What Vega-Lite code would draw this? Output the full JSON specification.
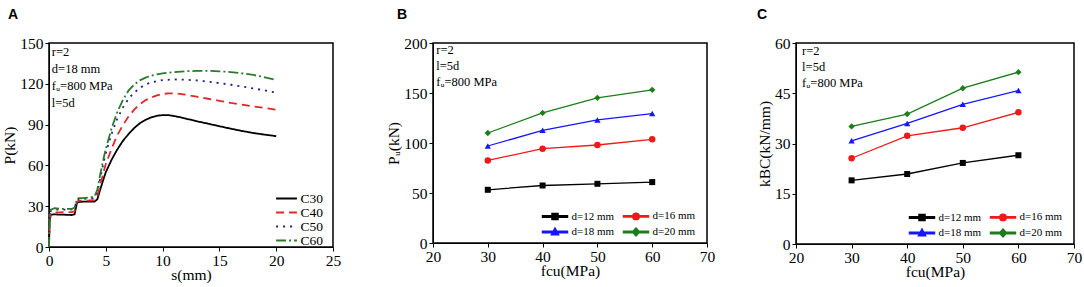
{
  "$schema": "https://vega.github.io/schema/vega-lite/v6.json",
  "background": "white",
  "padding": {"left": 2, "top": 7, "right": 0, "bottom": 0},
  "config": {
    "font": "Liberation Serif",
    "view": {"stroke": "black", "strokeWidth": 1.5},
    "axis": {
      "labelFont": "Liberation Serif", "titleFont": "Liberation Serif",
      "labelFontSize": 15.5, "titleFontSize": 15.5, "titleFontWeight": "normal",
      "labelColor": "black", "titleColor": "black", "domainColor": "black", "tickColor": "black",
      "grid": false, "tickSize": 4, "labelOverlap": false, "labelFlush": false, "format": "d"
    },
    "axisX": {"labelPadding": 2, "titlePadding": -1},
    "axisY": {"labelPadding": 2, "titlePadding": 2},
    "legend": {"labelFont": "Liberation Serif", "labelColor": "black", "titleFont": "Liberation Serif"},
    "title": {"font": "Liberation Sans", "fontSize": 14, "fontWeight": "bold", "anchor": "start", "frame": "group", "offset": 14, "color": "black"}
  },
  "bounds": "flush",
  "spacing": 100,
  "resolve": {"scale": {"color": "independent", "strokeDash": "independent", "shape": "independent"}, "legend": {"color": "independent", "strokeDash": "independent", "shape": "independent"}},
  "hconcat": [
    {
      "width": 284,
      "height": 204,
      "title": {"text": "A", "dx": -41},
      "data": {"values": [
        {"s":0,"p":0,"c":"C30"},{"s":0.05,"p":18,"c":"C30"},{"s":0.15,"p":23.8,"c":"C30"},{"s":0.5,"p":24,"c":"C30"},{"s":1,"p":23.8,"c":"C30"},{"s":1.5,"p":23.7,"c":"C30"},{"s":2,"p":23.5,"c":"C30"},{"s":2.25,"p":24,"c":"C30"},{"s":2.45,"p":32,"c":"C30"},{"s":2.6,"p":33.2,"c":"C30"},{"s":3,"p":33.3,"c":"C30"},{"s":3.5,"p":33.3,"c":"C30"},{"s":4,"p":33.4,"c":"C30"},{"s":4.25,"p":35,"c":"C30"},{"s":4.5,"p":42,"c":"C30"},{"s":4.8,"p":50,"c":"C30"},{"s":5,"p":55,"c":"C30"},{"s":5.5,"p":64,"c":"C30"},{"s":6,"p":71.5,"c":"C30"},{"s":6.5,"p":78,"c":"C30"},{"s":7,"p":83,"c":"C30"},{"s":7.5,"p":87.5,"c":"C30"},{"s":8,"p":91,"c":"C30"},{"s":8.5,"p":93.5,"c":"C30"},{"s":9,"p":95.3,"c":"C30"},{"s":9.5,"p":96.5,"c":"C30"},{"s":10,"p":97,"c":"C30"},{"s":10.5,"p":97,"c":"C30"},{"s":11,"p":96.3,"c":"C30"},{"s":11.5,"p":95.5,"c":"C30"},{"s":12,"p":94.5,"c":"C30"},{"s":13,"p":92.5,"c":"C30"},{"s":14,"p":90.7,"c":"C30"},{"s":15,"p":88.8,"c":"C30"},{"s":16,"p":87,"c":"C30"},{"s":17,"p":85.3,"c":"C30"},{"s":18,"p":83.8,"c":"C30"},{"s":19,"p":82.6,"c":"C30"},{"s":20,"p":81.5,"c":"C30"},
        {"s":0,"p":0,"c":"C40"},{"s":0.05,"p":20,"c":"C40"},{"s":0.15,"p":25,"c":"C40"},{"s":0.5,"p":25.5,"c":"C40"},{"s":1,"p":25.5,"c":"C40"},{"s":1.5,"p":25.6,"c":"C40"},{"s":2,"p":25.6,"c":"C40"},{"s":2.25,"p":26.2,"c":"C40"},{"s":2.45,"p":33,"c":"C40"},{"s":2.6,"p":34,"c":"C40"},{"s":3,"p":34.1,"c":"C40"},{"s":3.5,"p":34.2,"c":"C40"},{"s":4,"p":34.4,"c":"C40"},{"s":4.25,"p":37,"c":"C40"},{"s":4.5,"p":45,"c":"C40"},{"s":4.8,"p":55,"c":"C40"},{"s":5,"p":61,"c":"C40"},{"s":5.5,"p":72,"c":"C40"},{"s":6,"p":82,"c":"C40"},{"s":6.5,"p":89.5,"c":"C40"},{"s":7,"p":96,"c":"C40"},{"s":7.5,"p":101,"c":"C40"},{"s":8,"p":105,"c":"C40"},{"s":8.5,"p":108,"c":"C40"},{"s":9,"p":110,"c":"C40"},{"s":9.5,"p":111.5,"c":"C40"},{"s":10,"p":112.5,"c":"C40"},{"s":10.5,"p":113,"c":"C40"},{"s":11,"p":113,"c":"C40"},{"s":11.5,"p":112.6,"c":"C40"},{"s":12,"p":112,"c":"C40"},{"s":13,"p":110.5,"c":"C40"},{"s":14,"p":109,"c":"C40"},{"s":15,"p":107.5,"c":"C40"},{"s":16,"p":106,"c":"C40"},{"s":17,"p":104.7,"c":"C40"},{"s":18,"p":103.4,"c":"C40"},{"s":19,"p":102.2,"c":"C40"},{"s":20,"p":101,"c":"C40"},
        {"s":0,"p":0,"c":"C50"},{"s":0.05,"p":22,"c":"C50"},{"s":0.15,"p":26.5,"c":"C50"},{"s":0.5,"p":27.5,"c":"C50"},{"s":1,"p":27.5,"c":"C50"},{"s":1.5,"p":27.5,"c":"C50"},{"s":2,"p":27.6,"c":"C50"},{"s":2.25,"p":28.3,"c":"C50"},{"s":2.45,"p":34.5,"c":"C50"},{"s":2.6,"p":35.3,"c":"C50"},{"s":3,"p":35.4,"c":"C50"},{"s":3.5,"p":35.7,"c":"C50"},{"s":4,"p":36,"c":"C50"},{"s":4.25,"p":40,"c":"C50"},{"s":4.5,"p":50,"c":"C50"},{"s":4.8,"p":62,"c":"C50"},{"s":5,"p":69,"c":"C50"},{"s":5.5,"p":83,"c":"C50"},{"s":6,"p":94,"c":"C50"},{"s":6.5,"p":102.5,"c":"C50"},{"s":7,"p":109,"c":"C50"},{"s":7.5,"p":113.5,"c":"C50"},{"s":8,"p":117,"c":"C50"},{"s":8.5,"p":119.5,"c":"C50"},{"s":9,"p":121,"c":"C50"},{"s":9.5,"p":122,"c":"C50"},{"s":10,"p":122.7,"c":"C50"},{"s":11,"p":123.2,"c":"C50"},{"s":12,"p":123,"c":"C50"},{"s":13,"p":122.5,"c":"C50"},{"s":14,"p":121.6,"c":"C50"},{"s":15,"p":120.5,"c":"C50"},{"s":16,"p":119.3,"c":"C50"},{"s":17,"p":118,"c":"C50"},{"s":18,"p":116.6,"c":"C50"},{"s":19,"p":115.1,"c":"C50"},{"s":20,"p":113.5,"c":"C50"},
        {"s":0,"p":0,"c":"C60"},{"s":0.05,"p":23,"c":"C60"},{"s":0.15,"p":27.5,"c":"C60"},{"s":0.5,"p":28.5,"c":"C60"},{"s":1,"p":28,"c":"C60"},{"s":1.5,"p":28,"c":"C60"},{"s":2,"p":28,"c":"C60"},{"s":2.25,"p":28.8,"c":"C60"},{"s":2.45,"p":35,"c":"C60"},{"s":2.6,"p":36,"c":"C60"},{"s":3,"p":36,"c":"C60"},{"s":3.5,"p":36.3,"c":"C60"},{"s":4,"p":37,"c":"C60"},{"s":4.25,"p":42,"c":"C60"},{"s":4.5,"p":53,"c":"C60"},{"s":4.8,"p":65,"c":"C60"},{"s":5,"p":72,"c":"C60"},{"s":5.5,"p":87,"c":"C60"},{"s":6,"p":99,"c":"C60"},{"s":6.5,"p":108,"c":"C60"},{"s":7,"p":115,"c":"C60"},{"s":7.5,"p":119.5,"c":"C60"},{"s":8,"p":122.5,"c":"C60"},{"s":8.5,"p":124.5,"c":"C60"},{"s":9,"p":126,"c":"C60"},{"s":9.5,"p":127,"c":"C60"},{"s":10,"p":127.7,"c":"C60"},{"s":11,"p":128.6,"c":"C60"},{"s":12,"p":129.2,"c":"C60"},{"s":13,"p":129.5,"c":"C60"},{"s":14,"p":129.5,"c":"C60"},{"s":15,"p":129.2,"c":"C60"},{"s":16,"p":128.6,"c":"C60"},{"s":17,"p":127.7,"c":"C60"},{"s":18,"p":126.5,"c":"C60"},{"s":19,"p":124.8,"c":"C60"},{"s":20,"p":122.7,"c":"C60"}
      ]},
      "layer": [
        {
          "mark": {"type": "line", "strokeWidth": 1.8},
          "encoding": {
            "x": {"field": "s", "type": "quantitative", "scale": {"domain": [0, 25], "nice": false},
              "axis": {"title": "s(mm)", "values": [0,2.5,5,7.5,10,12.5,15,17.5,20,22.5,25],
                "labelExpr": "datum.value % 5 === 0 ? datum.label : ''",
                "encode": {"ticks": {"update": {"y2": {"signal": "datum.value % 5 === 0 ? 4 : 2.5"}}}}}},
            "y": {"field": "p", "type": "quantitative", "scale": {"domain": [0, 150], "nice": false},
              "axis": {"title": "P(kN)", "values": [0,15,30,45,60,75,90,105,120,135,150],
                "labelExpr": "datum.value % 30 === 0 ? datum.label : ''",
                "encode": {"ticks": {"update": {"x2": {"signal": "datum.value % 30 === 0 ? -4 : -2.5"}}}}}},
            "color": {"field": "c", "type": "nominal",
              "scale": {"domain": ["C30","C40","C50","C60"], "range": ["#000000","#e3262b","#1e1e8c","#2a7a2a"]},
              "legend": {"orient": "bottom-right", "title": "\u00a0", "titleOrient": "right", "titlePadding": 10, "titleFontSize": 13.5, "offset": 0, "padding": 0, "symbolType": "M-1.6,0H1.6", "symbolSize": 169, "symbolStrokeWidth": 2, "labelFontSize": 13.5, "rowPadding": 0, "labelOffset": 6.5}},
            "strokeDash": {"field": "c", "type": "nominal",
              "scale": {"domain": ["C30","C40","C50","C60"], "range": [[1,0],[8,5],[2,5],[10,3,2,3]]},
              "legend": {"orient": "bottom-right", "title": "\u00a0", "titleOrient": "right", "titlePadding": 10, "titleFontSize": 13.5, "offset": 0, "padding": 0, "symbolType": "M-1.6,0H1.6", "symbolSize": 169, "symbolStrokeWidth": 2, "labelFontSize": 13.5, "rowPadding": 0, "labelOffset": 6.5}}
          }
        },
        {
          "data": {"values": [{}]},
          "mark": {"type": "text", "align": "left", "baseline": "top", "fontSize": 12.5, "lineHeight": 17, "fill": "black", "font": "Liberation Serif"},
          "encoding": {
            "x": {"datum": 0.25},
            "y": {"datum": 148},
            "text": {"value": ["r=2", "d=18 mm", "fᵤ=800 MPa", "l=5d"]}
          }
        }
      ]
    },
    {
      "bounds": "flush",
      "spacing": 89,
      "resolve": {"scale": {"color": "independent", "shape": "independent"}, "legend": {"color": "independent", "shape": "independent"}},
      "hconcat": [
        {
          "width": 274,
          "height": 200,
          "title": {"text": "B", "dx": -36},
          "data": {"values": [
            {"f":30,"v":53.2,"d":"d=12 mm"},{"f":40,"v":57.5,"d":"d=12 mm"},{"f":50,"v":59.2,"d":"d=12 mm"},{"f":60,"v":60.9,"d":"d=12 mm"},
            {"f":30,"v":82.6,"d":"d=16 mm"},{"f":40,"v":94.3,"d":"d=16 mm"},{"f":50,"v":98.0,"d":"d=16 mm"},{"f":60,"v":103.7,"d":"d=16 mm"},
            {"f":30,"v":97.0,"d":"d=18 mm"},{"f":40,"v":112.7,"d":"d=18 mm"},{"f":50,"v":123.1,"d":"d=18 mm"},{"f":60,"v":129.4,"d":"d=18 mm"},
            {"f":30,"v":110.0,"d":"d=20 mm"},{"f":40,"v":130.1,"d":"d=20 mm"},{"f":50,"v":145.2,"d":"d=20 mm"},{"f":60,"v":153.2,"d":"d=20 mm"}
          ]},
          "layer": [
            {
              "mark": {"type": "line", "strokeWidth": 1.3},
              "encoding": {
                "x": {"field": "f", "type": "quantitative", "scale": {"domain": [20, 70], "nice": false},
                  "axis": {"title": "fcu(MPa)", "values": [20,25,30,35,40,45,50,55,60,65,70],
                    "labelExpr": "datum.value % 10 === 0 ? datum.label : ''",
                    "encode": {"ticks": {"update": {"y2": {"signal": "datum.value % 10 === 0 ? 4 : 2.5"}}}}}},
                "y": {"field": "v", "type": "quantitative", "scale": {"domain": [0, 200], "nice": false},
                  "axis": {"title": "Pᵤ(kN)", "values": [0,25,50,75,100,125,150,175,200],
                    "labelExpr": "datum.value % 50 === 0 ? datum.label : ''",
                    "encode": {"ticks": {"update": {"x2": {"signal": "datum.value % 50 === 0 ? -4 : -2.5"}}}}}},
                "color": {"field": "d", "type": "nominal",
                  "scale": {"domain": ["d=12 mm","d=18 mm","d=16 mm","d=20 mm"], "range": ["#000000","#1515ff","#f01818","#1b7d1b"]},
                  "legend": {"orient": "bottom-right", "title": "\u00a0", "titleOrient": "right", "titlePadding": 7.5, "titleFontSize": 11, "columns": 2, "offset": 4, "padding": 0, "symbolSize": 256, "labelFontSize": 11, "columnPadding": 5, "rowPadding": 0, "labelOffset": 7.5, "symbolOpacity": 1}}
              }
            },
            {
              "mark": {"type": "point", "filled": true, "size": 0},
              "encoding": {
                "x": {"field": "f", "type": "quantitative"},
                "y": {"field": "v", "type": "quantitative"},
                "color": {"field": "d", "type": "nominal",
                  "scale": {"domain": ["d=12 mm","d=18 mm","d=16 mm","d=20 mm"], "range": ["#000000","#1515ff","#f01818","#1b7d1b"]}, "legend": null},
                "shape": {"field": "d", "type": "nominal",
                  "scale": {"domain": ["d=12 mm","d=18 mm","d=16 mm","d=20 mm"], "range": [
                    "M-1.56,-0.08H1.56V0.08H-1.56ZM-0.375,-0.375H0.375V0.375H-0.375Z",
                    "M-1.56,-0.08H1.56V0.08H-1.56ZM0,-0.5L0.45,0.35L-0.45,0.35Z",
                    "M-1.56,-0.08H1.56V0.08H-1.56ZM-0.4,0A0.4,0.4,0,1,1,0.4,0A0.4,0.4,0,1,1,-0.4,0Z",
                    "M-1.56,-0.08H1.56V0.08H-1.56ZM0,-0.5L0.45,0L0,0.5L-0.45,0Z"]}, "legend": null}
              }
            },
            {"transform": [{"filter": "datum.d === 'd=12 mm'"}], "mark": {"type": "point", "filled": true, "opacity": 1, "shape": "square", "size": 36, "color": "#000000"}, "encoding": {"x": {"field": "f", "type": "quantitative"}, "y": {"field": "v", "type": "quantitative"}}},
            {"transform": [{"filter": "datum.d === 'd=16 mm'"}], "mark": {"type": "point", "filled": true, "opacity": 1, "shape": "circle", "size": 42, "color": "#f01818"}, "encoding": {"x": {"field": "f", "type": "quantitative"}, "y": {"field": "v", "type": "quantitative"}}},
            {"transform": [{"filter": "datum.d === 'd=18 mm'"}], "mark": {"type": "point", "filled": true, "opacity": 1, "shape": "triangle-up", "size": 40, "color": "#1515ff"}, "encoding": {"x": {"field": "f", "type": "quantitative"}, "y": {"field": "v", "type": "quantitative"}}},
            {"transform": [{"filter": "datum.d === 'd=20 mm'"}], "mark": {"type": "point", "filled": true, "opacity": 1, "shape": "diamond", "size": 40, "color": "#1b7d1b"}, "encoding": {"x": {"field": "f", "type": "quantitative"}, "y": {"field": "v", "type": "quantitative"}}},
            {
              "data": {"values": [{}]},
              "mark": {"type": "text", "align": "left", "baseline": "top", "fontSize": 12.5, "lineHeight": 16, "fill": "black", "font": "Liberation Serif"},
              "encoding": {
                "x": {"datum": 20.6},
                "y": {"datum": 199.5},
                "text": {"value": ["r=2", "l=5d", "fᵤ=800 MPa"]}
              }
            }
          ]
        },
        {
          "width": 278,
          "height": 201,
          "title": {"text": "C", "dx": -39},
          "data": {"values": [
            {"f":30,"v":19.0,"d":"d=12 mm"},{"f":40,"v":20.9,"d":"d=12 mm"},{"f":50,"v":24.2,"d":"d=12 mm"},{"f":60,"v":26.5,"d":"d=12 mm"},
            {"f":30,"v":25.6,"d":"d=16 mm"},{"f":40,"v":32.3,"d":"d=16 mm"},{"f":50,"v":34.7,"d":"d=16 mm"},{"f":60,"v":39.3,"d":"d=16 mm"},
            {"f":30,"v":30.8,"d":"d=18 mm"},{"f":40,"v":36.0,"d":"d=18 mm"},{"f":50,"v":41.7,"d":"d=18 mm"},{"f":60,"v":45.8,"d":"d=18 mm"},
            {"f":30,"v":35.1,"d":"d=20 mm"},{"f":40,"v":38.8,"d":"d=20 mm"},{"f":50,"v":46.5,"d":"d=20 mm"},{"f":60,"v":51.3,"d":"d=20 mm"}
          ]},
          "layer": [
            {
              "mark": {"type": "line", "strokeWidth": 1.3},
              "encoding": {
                "x": {"field": "f", "type": "quantitative", "scale": {"domain": [20, 70], "nice": false},
                  "axis": {"title": "fcu(MPa)", "values": [20,25,30,35,40,45,50,55,60,65,70],
                    "labelExpr": "datum.value % 10 === 0 ? datum.label : ''",
                    "encode": {"ticks": {"update": {"y2": {"signal": "datum.value % 10 === 0 ? 4 : 2.5"}}}}}},
                "y": {"field": "v", "type": "quantitative", "scale": {"domain": [0, 60], "nice": false},
                  "axis": {"title": "kBC(kN/mm)", "values": [0,7.5,15,22.5,30,37.5,45,52.5,60],
                    "labelExpr": "datum.value % 15 === 0 ? datum.label : ''",
                    "encode": {"ticks": {"update": {"x2": {"signal": "datum.value % 15 === 0 ? -4 : -2.5"}}}}}},
                "color": {"field": "d", "type": "nominal",
                  "scale": {"domain": ["d=12 mm","d=18 mm","d=16 mm","d=20 mm"], "range": ["#000000","#1515ff","#f01818","#1b7d1b"]},
                  "legend": {"orient": "bottom-right", "title": "\u00a0", "titleOrient": "right", "titlePadding": 7.5, "titleFontSize": 11, "columns": 2, "offset": 4, "padding": 0, "symbolSize": 256, "labelFontSize": 11, "columnPadding": 5, "rowPadding": 0, "labelOffset": 7.5, "symbolOpacity": 1}}
              }
            },
            {
              "mark": {"type": "point", "filled": true, "size": 0},
              "encoding": {
                "x": {"field": "f", "type": "quantitative"},
                "y": {"field": "v", "type": "quantitative"},
                "color": {"field": "d", "type": "nominal",
                  "scale": {"domain": ["d=12 mm","d=18 mm","d=16 mm","d=20 mm"], "range": ["#000000","#1515ff","#f01818","#1b7d1b"]}, "legend": null},
                "shape": {"field": "d", "type": "nominal",
                  "scale": {"domain": ["d=12 mm","d=18 mm","d=16 mm","d=20 mm"], "range": [
                    "M-1.56,-0.08H1.56V0.08H-1.56ZM-0.375,-0.375H0.375V0.375H-0.375Z",
                    "M-1.56,-0.08H1.56V0.08H-1.56ZM0,-0.5L0.45,0.35L-0.45,0.35Z",
                    "M-1.56,-0.08H1.56V0.08H-1.56ZM-0.4,0A0.4,0.4,0,1,1,0.4,0A0.4,0.4,0,1,1,-0.4,0Z",
                    "M-1.56,-0.08H1.56V0.08H-1.56ZM0,-0.5L0.45,0L0,0.5L-0.45,0Z"]}, "legend": null}
              }
            },
            {"transform": [{"filter": "datum.d === 'd=12 mm'"}], "mark": {"type": "point", "filled": true, "opacity": 1, "shape": "square", "size": 36, "color": "#000000"}, "encoding": {"x": {"field": "f", "type": "quantitative"}, "y": {"field": "v", "type": "quantitative"}}},
            {"transform": [{"filter": "datum.d === 'd=16 mm'"}], "mark": {"type": "point", "filled": true, "opacity": 1, "shape": "circle", "size": 42, "color": "#f01818"}, "encoding": {"x": {"field": "f", "type": "quantitative"}, "y": {"field": "v", "type": "quantitative"}}},
            {"transform": [{"filter": "datum.d === 'd=18 mm'"}], "mark": {"type": "point", "filled": true, "opacity": 1, "shape": "triangle-up", "size": 40, "color": "#1515ff"}, "encoding": {"x": {"field": "f", "type": "quantitative"}, "y": {"field": "v", "type": "quantitative"}}},
            {"transform": [{"filter": "datum.d === 'd=20 mm'"}], "mark": {"type": "point", "filled": true, "opacity": 1, "shape": "diamond", "size": 40, "color": "#1b7d1b"}, "encoding": {"x": {"field": "f", "type": "quantitative"}, "y": {"field": "v", "type": "quantitative"}}},
            {
              "data": {"values": [{}]},
              "mark": {"type": "text", "align": "left", "baseline": "top", "fontSize": 12.5, "lineHeight": 16, "fill": "black", "font": "Liberation Serif"},
              "encoding": {
                "x": {"datum": 21.1},
                "y": {"datum": 59.4},
                "text": {"value": ["r=2", "l=5d", "fᵤ=800 MPa"]}
              }
            }
          ]
        }
      ]
    }
  ]
}
